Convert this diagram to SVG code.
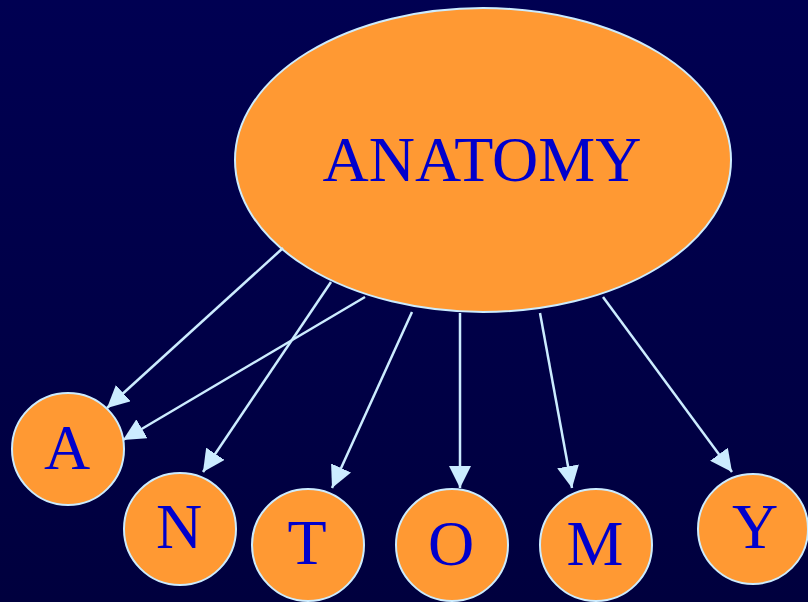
<svg xmlns="http://www.w3.org/2000/svg" width="808" height="602" viewBox="0 0 808 602">
<style>
.node{fill:#FF9933;stroke:#CCECFF;stroke-width:2}
.lbl{font-family:"Liberation Serif","Times New Roman",serif;fill:#0000CC;text-anchor:middle}
.big{font-size:64px}
.sm{font-size:64px}
.edge{stroke:#CCECFF;stroke-width:2.5;fill:none;marker-end:url(#arr)}
</style>
<defs>
<linearGradient id="bg" x1="0" y1="0" x2="0" y2="1">
<stop offset="0" stop-color="#000052"/>
<stop offset="1" stop-color="#00003E"/>
</linearGradient>
<marker id="arr" markerUnits="userSpaceOnUse" markerWidth="22" markerHeight="22" viewBox="0 0 21 21" refX="21" refY="10.5" orient="auto">
<path d="M0,0 L21,10.5 L0,21 Z" fill="#CCECFF"/>
</marker>
</defs>
<rect width="808" height="602" fill="url(#bg)"/>
<g id="root">
<ellipse class="node" cx="483" cy="160" rx="248" ry="152"/>
<text class="lbl big" x="482" y="181">ANATOMY</text>
</g>
<g id="connectors">
<line class="edge" x1="283" y1="248" x2="107" y2="408"/>
<line class="edge" x1="365" y1="297" x2="123" y2="440"/>
<line class="edge" x1="331" y1="282" x2="203" y2="472"/>
<line class="edge" x1="412" y1="312" x2="332" y2="488"/>
<line class="edge" x1="460" y1="313" x2="460" y2="488"/>
<line class="edge" x1="540" y1="313" x2="572" y2="488"/>
<line class="edge" x1="603" y1="297" x2="732" y2="472"/>
</g>
<g id="nA"><circle class="node" cx="68" cy="449" r="56"/><text class="lbl sm" x="67" y="469">A</text></g>
<g id="nN"><circle class="node" cx="180" cy="529" r="56"/><text class="lbl sm" x="179" y="548">N</text></g>
<g id="nT"><circle class="node" cx="308" cy="545" r="56"/><text class="lbl sm" x="307" y="564">T</text></g>
<g id="nO"><circle class="node" cx="452" cy="545" r="56"/><text class="lbl sm" x="451" y="565">O</text></g>
<g id="nM"><circle class="node" cx="596" cy="545" r="56"/><text class="lbl sm" x="595" y="565">M</text></g>
<g id="nY"><circle class="node" cx="753" cy="529" r="55"/><text class="lbl sm" x="755" y="548">Y</text></g>
</svg>
